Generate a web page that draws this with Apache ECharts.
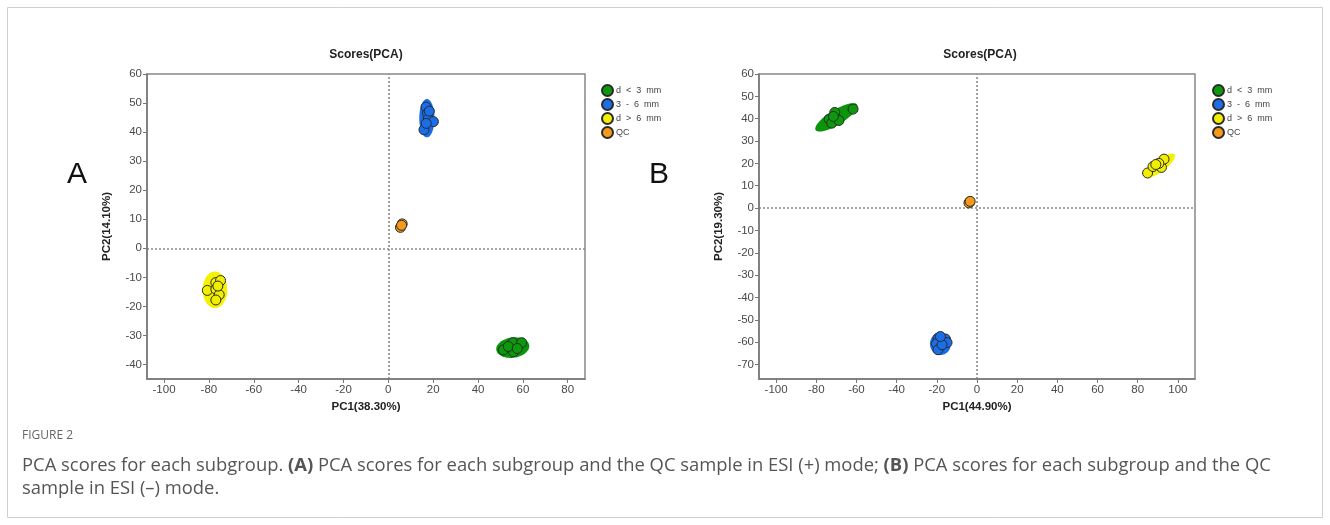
<!DOCTYPE html>
<html>
<head>
<meta charset="utf-8">
<script src="https://cdn.jsdelivr.net/npm/echarts@6/dist/echarts.min.js"></script>
<style>
  html, body { margin: 0; padding: 0; background: #fff; }
  #chart { width: 1330px; height: 525px; }
</style>
</head>
<body>
<div id="chart"></div>
<script>
// ---------------- DATA ----------------
const groupNames = ['d < 3 mm', '3 - 6 mm', 'd > 6 mm', 'QC'];

// Panel A: ESI (+)
const aGreen  = [[51.3,-35.0],[55.5,-32.5],[59.5,-32.5],[55.8,-35.6],[53.5,-33.8],[57.5,-34.5]];
const aBlue   = [[16.8,48.6],[17.5,46.5],[17.8,44.5],[20.1,43.6],[15.9,40.8],[16.9,43.0],[18.3,47.2]];
const aYellow = [[-80.7,-14.5],[-76.9,-11.8],[-74.8,-11.1],[-76.9,-14.1],[-75.4,-16.0],[-76.9,-17.8],[-76.0,-13.0]];
const aQC     = [[6.2,8.4],[5.4,7.2],[5.9,7.9]];
// confidence ellipses [cx, cy, semiA, semiB, angleDeg]
const aEllipses = [[55.5,-34.2,7.4,3.5,5],[17.2,44.8,3.4,6.6,0],[-77.3,-14.3,5.5,6.3,0],[5.9,7.8,1.6,1.6,0]];

// Panel B: ESI (-)
const bGreen  = [[-73.6,39.8],[-70.8,42.8],[-72.3,38.0],[-68.7,39.2],[-61.7,44.3],[-71.5,41.0]];
const bBlue   = [[-19.4,-58.2],[-15.7,-58.6],[-14.9,-60.2],[-20.2,-60.7],[-19.4,-63.4],[-17.4,-61.2],[-18.2,-57.5]];
const bYellow = [[84.9,15.7],[87.6,18.6],[91.8,18.2],[93.1,21.9],[90.5,20.0],[89.0,19.5]];
const bQC     = [[-3.7,2.7],[-4.0,2.3],[-3.4,3.0]];
const bEllipses = [[-70.0,40.6,11.8,3.4,28.4],[-18.2,-60.8,5.2,5.0,0],[91.0,19.0,8.8,2.8,33.7],[-3.7,2.6,1.8,1.6,0]];

// axis ranges & ticks
const aXRange = [-107.6, 87.7];
const aYRange = [-45, 60];
const aXTicks = [-100,-80,-60,-40,-20,0,20,40,60,80];
const aYTicks = [-40,-30,-20,-10,0,10,20,30,40,50,60];
const bXRange = [-108.5, 108.5];
const bYRange = [-76.5, 60];
const bXTicks = [-100,-80,-60,-40,-20,0,20,40,60,80,100];
const bYTicks = [-70,-60,-50,-40,-30,-20,-10,0,10,20,30,40,50,60];

const aXName = 'PC1(38.30%)', aYName = 'PC2(14.10%)';
const bXName = 'PC1(44.90%)', bYName = 'PC2(19.30%)';
const panelTitle = 'Scores(PCA)';
const figLabel = 'FIGURE 2';
const captionLine1 = 'PCA scores for each subgroup. {b|(A)} PCA scores for each subgroup and the QC sample in ESI (+) mode; {b|(B)} PCA scores for each subgroup and the QC';
const captionLine2 = 'sample in ESI (\u2013) mode.';

// ---------------- STYLE ----------------
const colors = ['#0c9a0c', '#1a6fe8', '#f2ee00', '#f39a1c'];
const ellipseColors = ['#0b950b', '#1c6ce6', '#f4f200', '#f29a1c'];
const FONT = '"Liberation Sans", Arial, sans-serif';
const CAPFONT = '"Open Sans", sans-serif';
const grids = [
  { left: 147, top: 74, width: 438, height: 305 },
  { left: 759, top: 74, width: 436, height: 305 }
];

function ellipseSeries(data, idx) {
  return {
    type: 'custom', xAxisIndex: idx, yAxisIndex: idx, z: 1, silent: true,
    data: data,
    encode: { x: 0, y: 1 },
    renderItem: function (params, api) {
      const cx = api.value(0), cy = api.value(1), a = api.value(2), b = api.value(3), th = api.value(4) * Math.PI / 180;
      const pts = [];
      for (let i = 0; i < 60; i++) {
        const t = i / 60 * Math.PI * 2;
        const x = cx + a * Math.cos(t) * Math.cos(th) - b * Math.sin(t) * Math.sin(th);
        const y = cy + a * Math.cos(t) * Math.sin(th) + b * Math.sin(t) * Math.cos(th);
        pts.push(api.coord([x, y]));
      }
      return { type: 'polygon', shape: { points: pts }, style: { fill: ellipseColors[params.dataIndex], stroke: null } };
    }
  };
}

function scatter(name, data, idx, gi, withLines) {
  const s = {
    type: 'scatter', name: name, data: data, xAxisIndex: idx, yAxisIndex: idx, z: 3,
    symbol: 'circle', symbolSize: 10,
    itemStyle: { color: colors[gi], borderColor: '#2a2a2a', borderWidth: 1, opacity: 1 },
    emphasis: { disabled: true }
  };
  if (withLines) {
    s.markLine = {
      silent: true, symbol: 'none', label: { show: false }, z: 0,
      lineStyle: { type: [2, 2], color: '#8a8a8a', width: 1.6 },
      emphasis: { disabled: true },
      data: [{ xAxis: 0 }, { yAxis: 0 }]
    };
  }
  return s;
}

function xAxis(idx, range, ticks, name) {
  return {
    type: 'value', gridIndex: idx, min: range[0], max: range[1],
    name: name, nameLocation: 'middle', nameGap: 17,
    nameTextStyle: { fontFamily: FONT, fontWeight: 'bold', fontSize: 11.5, color: '#222' },
    axisLine: { show: true, onZero: false, lineStyle: { color: '#777', width: 1.5 } },
    axisTick: { show: true, length: 4, customValues: ticks, lineStyle: { color: '#777' } },
    axisLabel: { customValues: ticks, fontFamily: FONT, fontSize: 11.5, color: '#4a4a4a', margin: 5 },
    splitLine: { show: false }
  };
}
function yAxis(idx, range, ticks, name) {
  return {
    type: 'value', gridIndex: idx, min: range[0], max: range[1],
    name: name, nameLocation: 'middle', nameGap: 34,
    nameTextStyle: { fontFamily: FONT, fontWeight: 'bold', fontSize: 11.5, color: '#222' },
    axisLine: { show: true, onZero: false, lineStyle: { color: '#777', width: 1.5 } },
    axisTick: { show: true, length: 4, customValues: ticks, lineStyle: { color: '#777' } },
    axisLabel: { customValues: ticks, fontFamily: FONT, fontSize: 11.5, color: '#4a4a4a', margin: 5 },
    splitLine: { show: false }
  };
}

function legend(left) {
  return {
    left: left, top: 79, orient: 'vertical', itemWidth: 11, itemHeight: 11, itemGap: 1,
    icon: 'circle', selectedMode: false,
    formatter: function (n) { return n.replace(/ /g, '  '); },
    textStyle: { fontFamily: FONT, fontSize: 9, lineHeight: 10, color: '#444', padding: [0, 0, 0, -2] },
    data: groupNames
  };
}

const chart = echarts.init(document.getElementById('chart'), null, { renderer: 'canvas' });
chart.setOption({
  animation: false,
  backgroundColor: '#fff',
  grid: grids.map(g => Object.assign({ show: true, borderColor: '#888', borderWidth: 1.5, backgroundColor: 'transparent', containLabel: false }, g)),
  xAxis: [xAxis(0, aXRange, aXTicks, aXName), xAxis(1, bXRange, bXTicks, bXName)],
  yAxis: [yAxis(0, aYRange, aYTicks, aYName), yAxis(1, bYRange, bYTicks, bYName)],
  legend: [legend(596), legend(1207)],
  series: [
    ellipseSeries(aEllipses, 0),
    scatter(groupNames[0], aGreen, 0, 0, true),
    scatter(groupNames[1], aBlue, 0, 1, false),
    scatter(groupNames[2], aYellow, 0, 2, false),
    scatter(groupNames[3], aQC, 0, 3, false),
    ellipseSeries(bEllipses, 1),
    scatter(groupNames[0], bGreen, 1, 0, true),
    scatter(groupNames[1], bBlue, 1, 1, false),
    scatter(groupNames[2], bYellow, 1, 2, false),
    scatter(groupNames[3], bQC, 1, 3, false)
  ],
  graphic: [
    { type: 'rect', silent: true, z: -10, shape: { x: 7.5, y: 7.5, width: 1315, height: 510 },
      style: { fill: null, stroke: '#cfcfcf', lineWidth: 1 } },
    { type: 'text', silent: true, x: 366, y: 55, style: { text: panelTitle, font: 'bold 12px ' + FONT, fill: '#222', align: 'center', verticalAlign: 'middle' } },
    { type: 'text', silent: true, x: 980, y: 55, style: { text: panelTitle, font: 'bold 12px ' + FONT, fill: '#222', align: 'center', verticalAlign: 'middle' } },
    { type: 'text', silent: true, x: 77, y: 175, style: { text: 'A', font: '30px ' + FONT, fill: '#111', align: 'center', verticalAlign: 'middle' } },
    { type: 'text', silent: true, x: 659, y: 175, style: { text: 'B', font: '30px ' + FONT, fill: '#111', align: 'center', verticalAlign: 'middle' } },
    { type: 'text', silent: true, x: 22, y: 436, style: { text: figLabel, font: '12px ' + CAPFONT, fill: '#666', align: 'left', verticalAlign: 'middle' } },
    { type: 'text', silent: true, x: 22, y: 466, style: {
        text: captionLine1, fontFamily: CAPFONT, fontSize: 18.4, fill: '#555', align: 'left', verticalAlign: 'middle',
        rich: { b: { fontFamily: CAPFONT, fontSize: 18.4, fontWeight: 'bold', fill: '#555' } } } },
    { type: 'text', silent: true, x: 22, y: 489, style: { text: captionLine2, fontFamily: CAPFONT, fontSize: 18.4, fill: '#555', align: 'left', verticalAlign: 'middle' } }
  ]
});
</script>
</body>
</html>
